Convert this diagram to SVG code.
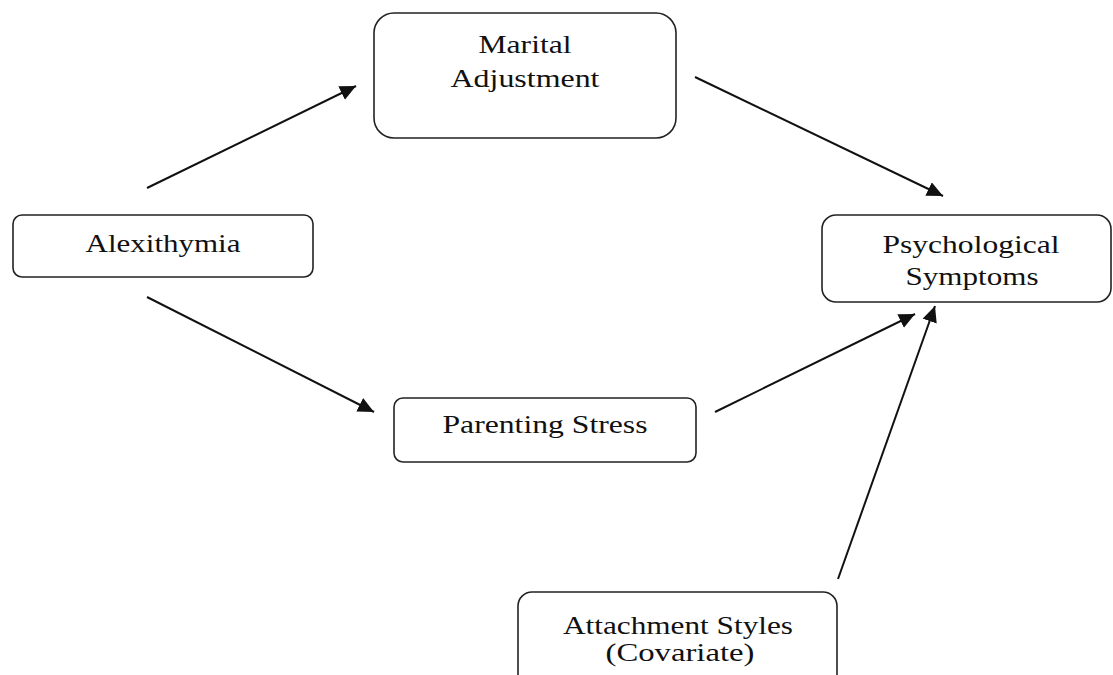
<svg xmlns="http://www.w3.org/2000/svg" width="1113" height="675" viewBox="0 0 1113 675">
  <style>
    .box { fill: #ffffff; stroke: #222222; stroke-width: 1.6; }
    .lbl { font-family: "Liberation Serif", "Times New Roman", serif; font-size: 26px; fill: #111111; text-anchor: middle; }
    .edge { stroke: #111111; stroke-width: 2; fill: none; marker-end: url(#arrow); }
  </style>
  <defs>
    <marker id="arrow" markerUnits="userSpaceOnUse" markerWidth="18" markerHeight="16" refX="16" refY="7.5" orient="auto">
      <path d="M0,0 L16,7.5 L0,15 z" fill="#111111"/>
    </marker>
  </defs>
  <rect width="1113" height="675" fill="#ffffff"/>

  <g id="edges">
    <line class="edge" x1="147" y1="188" x2="356" y2="86"/>
    <line class="edge" x1="695" y1="77" x2="943" y2="196"/>
    <line class="edge" x1="147" y1="297" x2="374" y2="412"/>
    <line class="edge" x1="715" y1="412" x2="915" y2="314"/>
    <line class="edge" x1="838" y1="579" x2="935" y2="306"/>
  </g>

  <g id="node-marital">
    <rect class="box" x="374" y="13" width="302" height="125" rx="20" ry="20"/>
    <text class="lbl" x="525" y="53" textLength="93" lengthAdjust="spacingAndGlyphs">Marital</text>
    <text class="lbl" x="525" y="87" textLength="149" lengthAdjust="spacingAndGlyphs">Adjustment</text>
  </g>

  <g id="node-alexithymia">
    <rect class="box" x="13" y="215" width="300" height="62" rx="9" ry="9"/>
    <text class="lbl" x="163" y="252" textLength="155" lengthAdjust="spacingAndGlyphs">Alexithymia</text>
  </g>

  <g id="node-psych">
    <rect class="box" x="822" y="215" width="289" height="87" rx="14" ry="14"/>
    <text class="lbl" x="971" y="253" textLength="177" lengthAdjust="spacingAndGlyphs">Psychological</text>
    <text class="lbl" x="972" y="285" textLength="133" lengthAdjust="spacingAndGlyphs">Symptoms</text>
  </g>

  <g id="node-parenting">
    <rect class="box" x="394" y="398" width="302" height="64" rx="9" ry="9"/>
    <text class="lbl" x="545" y="433" textLength="205" lengthAdjust="spacingAndGlyphs">Parenting Stress</text>
  </g>

  <g id="node-attachment">
    <rect class="box" x="518" y="592" width="319" height="110" rx="14" ry="14"/>
    <text class="lbl" x="678" y="634" textLength="230" lengthAdjust="spacingAndGlyphs">Attachment Styles</text>
    <text class="lbl" x="680" y="661" textLength="149" lengthAdjust="spacingAndGlyphs">(Covariate)</text>
  </g>
</svg>
